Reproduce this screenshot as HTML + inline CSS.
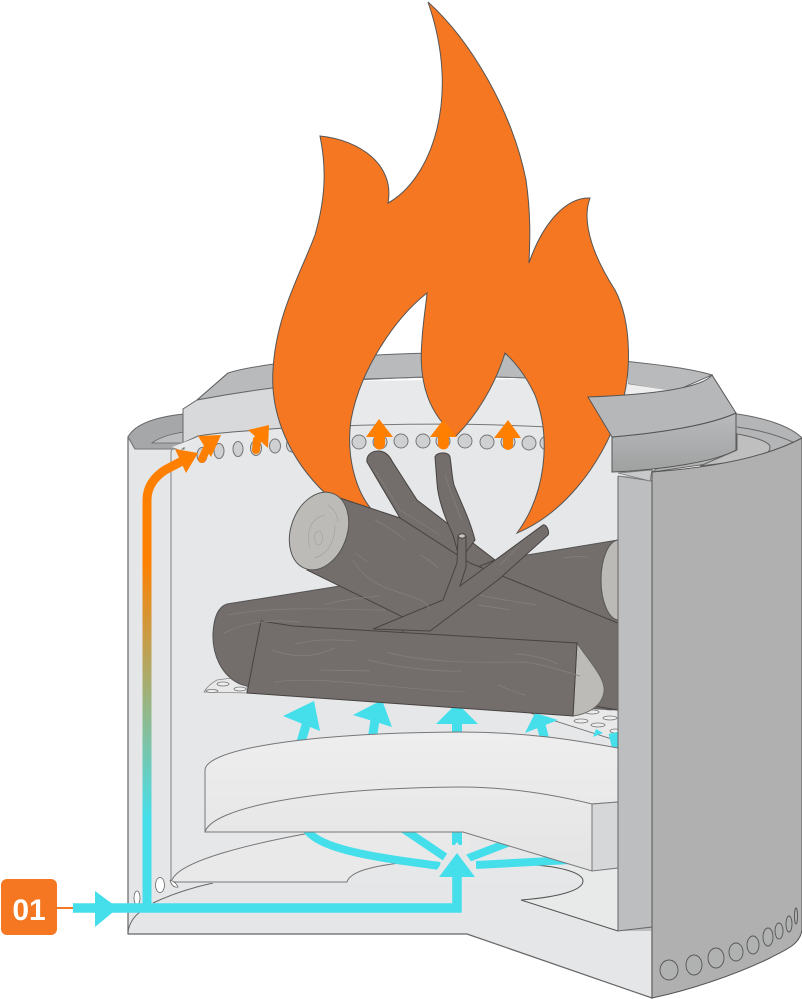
<!DOCTYPE html>
<html><head><meta charset="utf-8"><style>html,body{margin:0;padding:0;background:#fff}svg{display:block}</style></head>
<body>
<svg width="802" height="999" viewBox="0 0 802 999" xmlns="http://www.w3.org/2000/svg">
<defs>
<linearGradient id="flow" gradientUnits="userSpaceOnUse" x1="0" y1="820" x2="0" y2="560"><stop offset="0" stop-color="#45dfec"/><stop offset="1" stop-color="#ff8000"/></linearGradient>
<linearGradient id="band" x1="0" y1="0" x2="0" y2="1"><stop offset="0" stop-color="#b9babc"/><stop offset="1" stop-color="#9fa1a1"/></linearGradient>
<linearGradient id="baf" x1="0" y1="0" x2="0" y2="1"><stop offset="0" stop-color="#eeeeee"/><stop offset="1" stop-color="#e3e4e3"/></linearGradient>
<clipPath id="inner"><rect x="0" y="0" width="618" height="999"/></clipPath>
</defs>

<!-- main wall -->
<path d="M128 437 L128 934 L467 934 L652 998 L652 470 L612 440 L183 440 Z" fill="#e5e6e8" stroke="#666" stroke-width="1.2"/>
<path d="M128 932 C129 925 132 918 140 912 M153 903 C170 895 190 888 213 883" fill="none" stroke="#666" stroke-width="1"/>
<!-- back wall -->
<rect x="172" y="425" width="446" height="458" fill="#e6e7e9"/>
<path d="M171 882 L171 453 Q171 448 176 447" fill="none" stroke="#999" stroke-width="1.3"/>

<!-- left rim -->
<path d="M128 437 C135 424 155 417 184 414 L184 449 L135 449 Z" fill="#a6a7a8" stroke="#666" stroke-width="1"/>
<path d="M152 443 C160 437 170 434 184 432 L184 443 Z" fill="#bcbdbe" stroke="#666" stroke-width=".8"/>
<path d="M135 449 L183 449 M128 437 L135 449" stroke="#777" stroke-width="1" fill="none"/>

<!-- top ring band (back) -->
<path d="M197 400 L228 373 C270 360 400 350 500 354 C590 356 680 365 712 375 L673 392 L628 384 L527 378 L495 377 L425 377 L365 379 C310 383 250 390 197 400 Z" fill="#b9babc" stroke="#666" stroke-width="1"/>
<!-- inside back band -->
<path d="M340 381 L628 378 L628 430 L340 426 Z" fill="#e8e9ea"/>
<path d="M628 384 L673 391 L600 397 L628 397 Z" fill="#eeeeef"/>
<path d="M340 426 C420 423 490 424 548 427" fill="none" stroke="#777" stroke-width="1"/>
<path d="M340 381 C420 376 480 376 527 378" fill="none" stroke="#777" stroke-width="1"/>
<!-- left collar -->
<path d="M183 409 L197 400 C250 390 300 384 340 381 L340 426 C320 426 300 426 283 428 C250 431 220 432 198 436 L183 443 Z" fill="#d8d9db"/>
<path d="M340 381 C300 384 250 390 197 400 L183 409 L183 443 L198 436 C220 432 250 431 283 428 C300 426 320 426 340 426" fill="none" stroke="#666" stroke-width="1"/>
<path d="M197 400 L228 373" stroke="#666" stroke-width="1"/>
<path d="M172 447 L198 437 L180 450 Z" fill="#e9eaeb"/>

<!-- air holes -->
<g fill="#cfd0d2" stroke="#777" stroke-width="1">
<ellipse cx="202" cy="455" rx="5" ry="7.5"/><ellipse cx="219" cy="451" rx="5" ry="7.5"/><ellipse cx="238" cy="449" rx="5" ry="7.5"/><ellipse cx="256" cy="448" rx="5.5" ry="7.5"/><ellipse cx="275" cy="446" rx="5.5" ry="7"/><ellipse cx="292" cy="445" rx="5.5" ry="7"/>
<circle cx="359" cy="442" r="7"/><circle cx="380" cy="442" r="7"/><circle cx="401" cy="441" r="7"/><circle cx="423" cy="441" r="7"/><circle cx="443" cy="441" r="7"/><circle cx="465" cy="441" r="7"/><circle cx="487" cy="442" r="7"/><circle cx="508" cy="442" r="7"/><circle cx="529" cy="443" r="7"/><circle cx="547" cy="443" r="7"/>
</g>

<!-- flame -->
<path d="M428 2 C470 40 512 110 526 180 C531 215 530 240 529 263 C542 225 565 197 590 198 C580 225 597 262 615 290 C632 322 632 375 620 410 C600 470 560 515 517 533 C545 495 552 440 535 395 C527 378 517 364 505 353 C495 385 477 415 456 436 C430 415 418 385 422 340 C423 322 426 305 427 293 C395 318 360 370 351 420 C346 455 355 490 372 510 L345 520 L326 494 C290 460 270 415 273 370 C276 315 300 275 315 235 C325 200 327 170 320 136 C360 140 395 165 388 203 C430 180 462 100 428 2 Z" fill="#f57722" stroke="#555" stroke-width="1"/>

<!-- orange arrows -->
<g fill="#ff8000" stroke="none">
<path d="M147 908 L147 500 Q147 482 165 470 L186 459" fill="none" stroke="url(#flow)" stroke-width="9"/>
<polygon points="175,449 198,453 186,473"/>
<polygon points="198,436 221,435 211,457"/>
<path d="M202 459 L209 444" stroke="#ff8000" stroke-width="8" stroke-linecap="round"/>
<polygon points="248,430 269,425 268,448"/>
<path d="M256 450 L257 440 L262 436" fill="none" stroke="#ff8000" stroke-width="8" stroke-linecap="round"/>
<polygon points="379,419 366,437 393,437"/><rect x="374" y="435" width="11" height="10"/><circle cx="379.500" cy="444" r="5.500"/>
<polygon points="443,420 430,437 457,437"/><rect x="438" y="435" width="11" height="10"/><circle cx="443.500" cy="444" r="5.500"/>
<polygon points="508,420 494,438 521,438"/><rect x="503" y="436" width="10" height="10"/><circle cx="508" cy="445" r="5"/>
</g>

<!-- plate -->
<path d="M204 692 Q208 685 217 680 L247 676 L247 693 Z" fill="#e8e8e8" stroke="#888" stroke-width=".8"/>
<path d="M530 712 L618 690 L618 739 Z" fill="#e9e9e9"/>
<path d="M530 713 L618 741" stroke="#666" stroke-width=".8"/>
<g fill="#eee" stroke="#777" stroke-width=".8">
<ellipse cx="212" cy="691" rx="6" ry="1.5"/><ellipse cx="223" cy="684" rx="6" ry="2"/><ellipse cx="240" cy="689" rx="6" ry="2"/>
<ellipse cx="592" cy="712" rx="7" ry="2"/><ellipse cx="610" cy="708" rx="6" ry="2"/><ellipse cx="581" cy="721" rx="7" ry="2"/><ellipse cx="598" cy="725" rx="7" ry="2"/><ellipse cx="610" cy="718" rx="7" ry="2"/><ellipse cx="615" cy="731" rx="5" ry="2"/><ellipse cx="594" cy="700" rx="6" ry="2"/>
</g>

<!-- cyan upper arrows -->
<g fill="#45dfec">
<polygon points="283,716 314,701 320,731"/><path d="M300 745 L307 722" stroke="#45dfec" stroke-width="9"/>
<polygon points="353,715 382,700 392,727"/><path d="M372 740 L375 720" stroke="#45dfec" stroke-width="9"/>
<polygon points="436,724 478,724 457,703"/><rect x="452" y="722" width="10" height="14"/>
<polygon points="525,733 558,720 535,713"/><path d="M545 740 L541 725" stroke="#45dfec" stroke-width="9"/>
<polygon points="593,737 603,733 596,729"/><path d="M613 733 L617 750" stroke="#45dfec" stroke-width="9"/>
</g>

<!-- floor pieces -->
<path d="M521 900 C560 897 583 890 583 881 C583 872 560 866 530 864 L618 868 L618 931 Z" fill="#e8e9e9" stroke="none"/>
<path d="M521 900 C560 897 583 890 583 881 C583 873 562 867 535 865 M521 900 L618 931" fill="none" stroke="#555" stroke-width="1"/>
<path d="M172 882 L347 882 C350 871 375 866 400 863 L470 860 L470 830 L300 834 C250 842 180 860 172 882 Z" fill="#e9e9ea"/>
<path d="M172 880 C180 860 255 843 310 833 M172 882 L347 882 C350 871 375 866 400 863" fill="none" stroke="#777" stroke-width="1"/>

<!-- holes left -->
<g fill="#fff" stroke="#666" stroke-width=".8">
<ellipse cx="137" cy="898" rx="3" ry="7"/><ellipse cx="160" cy="885" rx="4.500" ry="7.500"/>
</g>
<path d="M170 880 Q172 888 178 887 Q176 882 170 880" fill="#fff" stroke="#666" stroke-width=".8"/>

<!-- lower cyan arcs -->
<g fill="none" stroke="#45dfec" stroke-width="8">
<path d="M307 830 C320 850 380 858 440 866"/>
<path d="M402 828 L445 857"/>
<path d="M466 859 L510 842"/>
<path d="M476 865 L570 860"/>
<path d="M457 830 L457 845" stroke-width="10"/>
</g>

<!-- baffle -->
<path d="M205 832 L205 770 C206 750 300 733 460 732 C530 732 580 741 618 748 L618 802 L592 804 L592 871 L463 832 Z" fill="url(#baf)" stroke="#777" stroke-width="1"/>
<path d="M205 832 C212 808 310 788 460 787 C510 787 555 795 592 804" fill="none" stroke="#777" stroke-width="1"/>
<path d="M592 804 L618 802 L618 868 L592 871 Z" fill="#d6d7d8" stroke="#777" stroke-width="1"/>

<!-- main cyan path -->
<polygon points="457,842 436,871 478,871" fill="#e5e6e8"/>
<g fill="#45dfec">
<path d="M73 908 L457 908 L457 872" fill="none" stroke="#45dfec" stroke-width="9.500"/>
<polygon points="95,891 95,927 118,908"/>
<polygon points="457,853 439,877 475,877"/>
</g>
<path d="M147 905 L147 815" stroke="#45dfec" stroke-width="9"/>
<path d="M57 908 L73 908" stroke="#f47721" stroke-width="2"/>

<!-- logs -->
<g clip-path="url(#inner)" stroke="#474341" stroke-width="1">
<!-- rear log -->
<path d="M227 604 L340 586 L527 555 L618 540 L618 710 L260 690 L240 684 C222 676 212 655 213 633 C214 617 218 607 227 604 Z" fill="#736e6b" stroke="#555"/>
<ellipse cx="619" cy="580" rx="18" ry="40" fill="#bcbab6" stroke="#555"/>
<!-- back branches -->
<path d="M367 462 C366 455 372 451 378 451 C385 451 389 455 392 461 L417 500 L447 523 L495 560 L470 570 L400 518 Z" fill="#736e6b"/>
<path d="M435 457 C436 452 449 451 450 457 C452 470 452 478 454 485 C462 505 470 520 475 540 L460 560 L453 535 C445 518 438 500 437 483 Z" fill="#736e6b"/>
<!-- diagonal log -->
<path d="M325 493 L400 518 L470 563 L618 623 L618 710 L560 700 L403 640 L403 617 L307 570 Z" fill="#736e6b"/>
<ellipse cx="319" cy="531" rx="28" ry="40" transform="rotate(20 319 531)" fill="#bdbbb7" stroke="#555"/>
<!-- Y branch -->
<path d="M458 537 L466 537 L466 567 L460 586 L543 525 C546 524 550 531 548 535 L498 580 L430 631 L373 629 L443 600 L457 563 Z" fill="#736e6b"/>
<ellipse cx="462" cy="536" rx="3.500" ry="2.200" fill="#c6c5c2"/>
<!-- front log -->
<path d="M577 643 C588 660 606 678 604 692 C602 706 588 714 573 716 Z" fill="#bdbbb7" stroke="#666"/>
<path d="M261 621 L293 626 L577 643 L573 716 L247 693 Z" fill="#736e6b"/>
</g>
<!-- wood grain -->
<g fill="none" stroke="#85807d" stroke-width=".7">
<path d="M295 644 C320 638 340 640 355 641 M271 650 C300 660 320 655 335 648 M387 652 C430 665 500 662 525 662 C545 665 560 670 580 676 M368 660 C400 668 440 672 462 671 M320 670 L370 671 M275 682 C320 675 400 690 465 692 M515 654 C535 655 550 660 558 664 M498 685 C510 690 520 694 525 695"/>
<path d="M228 615 C280 605 340 610 385 610 M224 633 C250 620 280 620 300 622 M323 605 C340 600 360 598 380 596"/>
<path d="M375 520 C385 525 400 535 405 540 M355 553 L368 562 M353 560 C370 590 400 590 420 600 C425 602 428 605 430 610 M420 555 C430 560 435 565 438 568 M480 595 C500 600 520 602 537 605 M478 605 C490 607 500 608 510 610"/>
<path d="M375 470 L400 510 L440 535 M445 475 C450 490 455 505 462 520 M520 545 L500 565 M563 558 C575 556 590 556 587 558"/>
<path d="M325 515 C312 518 305 530 310 548 M335 525 C335 545 325 555 315 558 M318 531 a4 7 0 1 0 1 0 M328 505 C335 510 337 515 338 522" stroke="#a5a3a0"/>
</g>

<!-- right strip -->
<rect x="618" y="476" width="34" height="455" fill="#bdbec0"/>
<path d="M618 476 L618 931 L652 927 L652 481" fill="none" stroke="#666" stroke-width="1"/>
<path d="M618 476 L652 481" stroke="#777" stroke-width="1"/>
<path d="M618 473 L652 470 L650 481 Z" fill="#c8c9ca" stroke="#777" stroke-width=".8"/>

<!-- right rim -->
<path d="M737 414 C765 418 790 426 802 438 L790 452 L652 472 L700 440 Z" fill="#b4b5b6" stroke="#666" stroke-width="1"/>
<path d="M737 427 C760 430 780 436 795 443" fill="none" stroke="#666" stroke-width="1"/>
<path d="M737 434 C755 437 770 442 770 447 C770 452 765 456 757 459 L700 466 L737 450 Z" fill="#bfbfc0" stroke="#666" stroke-width="1"/>

<!-- outer shell -->
<path d="M652 472 C720 467 770 455 802 438 L802 930 C800 945 785 950 770 958 C735 975 690 990 652 998 Z" fill="#b0b0b0" stroke="#555" stroke-width="1"/>
<g fill="#b0b2b1" stroke="#555" stroke-width=".9">
<ellipse cx="669" cy="970" rx="9" ry="10"/><ellipse cx="694" cy="965" rx="8" ry="10"/><ellipse cx="716" cy="958" rx="8" ry="10"/><ellipse cx="736" cy="952" rx="7" ry="9"/><ellipse cx="753" cy="945" rx="6" ry="9"/><ellipse cx="768" cy="937" rx="5" ry="9"/><ellipse cx="779" cy="931" rx="4" ry="8"/><ellipse cx="789" cy="924" rx="3" ry="8"/><ellipse cx="796" cy="916" rx="1.500" ry="8"/>
</g>

<!-- right collar piece -->
<path d="M612 437 C660 433 710 425 736 413 L736 450 C715 462 660 470 612 472 Z" fill="url(#band)" stroke="#555" stroke-width="1"/>
<path d="M588 397 C640 395 700 390 712 375 L736 413 C710 425 660 433 612 437 Z" fill="#b6b7b8" stroke="#555" stroke-width="1"/>

<!-- badge -->
<rect x="1" y="879" width="56" height="56" rx="6" fill="#f57722"/>
<text x="29" y="920" text-anchor="middle" font-family="'Liberation Sans',sans-serif" font-weight="700" font-size="30" fill="#fff">01</text>
</svg>
</body></html>
